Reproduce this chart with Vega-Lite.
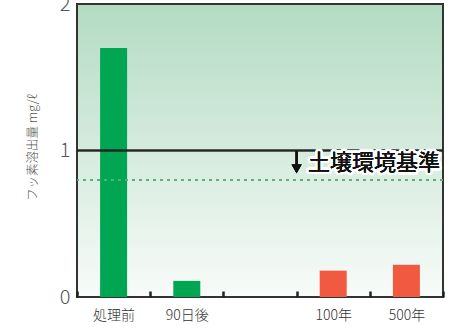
{
  "$schema": "https://vega.github.io/schema/vega-lite/v6.json",
  "width": 366,
  "height": 293,
  "autosize": "none",
  "padding": {"left": 77, "top": 4, "right": 16, "bottom": 32},
  "background": "white",
  "config": {
    "font": "Noto Sans CJK JP",
    "view": {
      "stroke": "#333333",
      "strokeWidth": 2,
      "fill": {
        "gradient": "linear",
        "x1": 0, "y1": 0, "x2": 0, "y2": 1,
        "stops": [
          {"offset": 0, "color": "#b3dbc3"},
          {"offset": 1, "color": "#f8fbf9"}
        ]
      }
    }
  },
  "data": {
    "values": [
      {"period": "処理前", "value": 1.7, "group": "now"},
      {"period": "90日後", "value": 0.11, "group": "now"},
      {"period": "100年", "value": 0.18, "group": "future"},
      {"period": "500年", "value": 0.22, "group": "future"}
    ]
  },
  "encoding": {
    "x": {
      "field": "period",
      "type": "nominal",
      "scale": {"domain": ["処理前", "90日後", "", "100年", "500年"], "paddingInner": 0, "paddingOuter": 0},
      "axis": {
        "title": null,
        "labelAngle": 0,
        "labelFontSize": 14,
        "labelFontWeight": 300,
        "labelColor": "#333333",
        "labelPadding": 17,
        "tickBand": "extent",
        "tickSize": -6,
        "tickWidth": 2.5,
        "tickColor": "#222222",
        "domain": false
      }
    }
  },
  "layer": [
    {
      "mark": {"type": "bar", "width": 27},
      "encoding": {
        "y": {
          "field": "value",
          "type": "quantitative",
          "scale": {"domain": [0, 2], "nice": false},
          "axis": {
            "title": "フッ素溶出量 mg/ℓ",
            "titleFontSize": 12.5,
            "titleFontWeight": 300,
            "titleColor": "#555555",
            "titlePadding": 20,
            "titleY": 143,
            "values": [0, 1, 2],
            "labelExpr": "format(datum.value, 'd')",
            "labelOverlap": false,
            "labelFontSize": 20,
            "labelColor": "#555555",
            "labelFontWeight": 300,
            "labelPadding": 7,
            "ticks": false,
            "grid": false,
            "domain": false
          }
        },
        "color": {
          "field": "group",
          "type": "nominal",
          "scale": {"domain": ["now", "future"], "range": ["#00a651", "#f15a40"]},
          "legend": null
        }
      }
    },
    {
      "mark": {"type": "rule", "color": "#57b07a", "strokeWidth": 1.5, "strokeDash": [3, 4]},
      "encoding": {"y": {"datum": 0.8, "type": "quantitative"}, "x": null}
    },
    {
      "mark": {"type": "rule", "color": "#222222", "strokeWidth": 1.5},
      "encoding": {"y": {"datum": 1, "type": "quantitative"}, "x": null}
    },
    {
      "mark": {"type": "text", "align": "right", "baseline": "middle", "fontSize": 22, "fontWeight": 400, "color": "white", "stroke": "white", "strokeWidth": 5, "strokeJoin": "round", "dx": -3},
      "encoding": {
        "x": {"datum": "500年", "bandPosition": 1},
        "y": {"datum": 0.915, "type": "quantitative"},
        "text": {"value": "土壌環境基準"}
      }
    },
    {
      "mark": {"type": "text", "align": "right", "baseline": "middle", "fontSize": 22, "fontWeight": 400, "color": "#111111", "dx": -3},
      "encoding": {
        "x": {"datum": "500年", "bandPosition": 1},
        "y": {"datum": 0.915, "type": "quantitative"},
        "text": {"value": "土壌環境基準"}
      }
    },
    {
      "mark": {"type": "rule", "color": "#111111", "strokeWidth": 2, "dx": -1},
      "encoding": {
        "x": {"datum": "100年", "bandPosition": 0},
        "y": {"datum": 0.995, "type": "quantitative"},
        "y2": {"datum": 0.885}
      }
    },
    {
      "mark": {"type": "point", "shape": "triangle-down", "filled": true, "opacity": 1, "color": "#111111", "size": 100, "dx": -1},
      "encoding": {
        "x": {"datum": "100年", "bandPosition": 0},
        "y": {"datum": 0.875, "type": "quantitative"}
      }
    }
  ]
}
